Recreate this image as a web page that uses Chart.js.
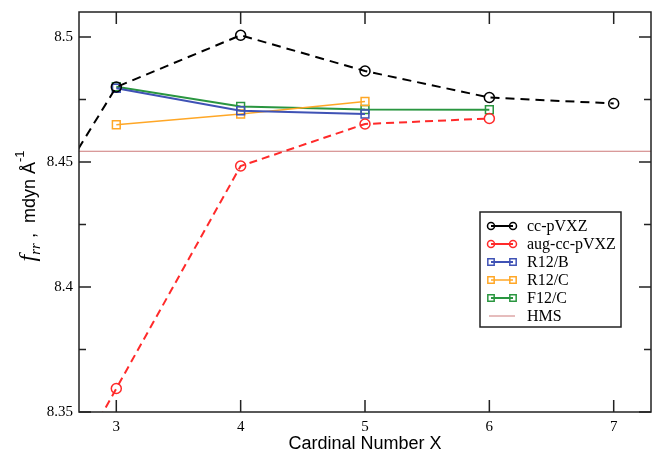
<!DOCTYPE html>
<html>
<head>
<meta charset="utf-8">
<script src="https://cdn.jsdelivr.net/npm/chart.js@4.4.1/dist/chart.umd.min.js"></script>
<style>
  html, body { margin: 0; padding: 0; background: #fff; }
  #frrChart { display: block; }
</style>
</head>
<body>
<canvas id="frrChart" width="652" height="452"></canvas>
<script>
// 基底関数の基数 X
var ccX = [2, 3, 4, 5, 6, 7];
var augX = [2, 3, 4, 5, 6];
var r12X = [3, 4, 5];
var f12X = [3, 4, 5, 6];

// f_rr (mdyn/Å)
var ccY = [8.399, 8.480, 8.5007, 8.4864, 8.4758, 8.4734];
var augY = [8.27, 8.3594, 8.4484, 8.4652, 8.4674];
var r12bY = [8.4795, 8.4705, 8.4692];
var r12cY = [8.4649, 8.4692, 8.4742];
var f12cY = [8.4801, 8.4722, 8.4710, 8.4709];
var hmsY = 8.4543;

// 軸
var xMin = 2.7, xMax = 7.3;
var yMin = 8.35, yMax = 8.51;
var xTicks = [3, 4, 5, 6, 7];
var yTicks = [8.35, 8.4, 8.45, 8.5];
var yMinorTicks = [8.375, 8.425, 8.475];

var seriesLabels = ["cc-pVXZ", "aug-cc-pVXZ", "R12/B", "R12/C", "F12/C", "HMS"];

function toPoints(xs, ys) {
  return xs.map(function (x, i) {
    return { x: x, y: ys[i] };
  });
}

var serif = "'Liberation Serif', 'Times New Roman', serif";
var sans = "'Liberation Sans', Arial, sans-serif";

// 枠・内向き目盛り・凡例・軸タイトルを描くプラグイン
var gracePlugin = {
  id: "grace",
  afterDraw: function (chart) {
    var ctx = chart.ctx;
    var a = chart.chartArea;
    var xs = chart.scales.x;
    var ys = chart.scales.y;
    ctx.save();
    ctx.strokeStyle = "#222";
    ctx.lineWidth = 1.5;
    ctx.strokeRect(a.left, a.top, a.right - a.left, a.bottom - a.top);

    ctx.beginPath();
    xTicks.forEach(function (v) {
      var px = xs.getPixelForValue(v);
      ctx.moveTo(px, a.bottom);
      ctx.lineTo(px, a.bottom - 12);
      ctx.moveTo(px, a.top);
      ctx.lineTo(px, a.top + 12);
    });
    yTicks.forEach(function (v) {
      var py = ys.getPixelForValue(v);
      ctx.moveTo(a.left, py);
      ctx.lineTo(a.left + 12, py);
      ctx.moveTo(a.right, py);
      ctx.lineTo(a.right - 12, py);
    });
    yMinorTicks.forEach(function (v) {
      var py = ys.getPixelForValue(v);
      ctx.moveTo(a.left, py);
      ctx.lineTo(a.left + 7, py);
      ctx.moveTo(a.right, py);
      ctx.lineTo(a.right - 7, py);
    });
    ctx.stroke();

    // 凡例
    var lx = 480, ly = 212, lw = 141, lh = 115;
    ctx.fillStyle = "#fff";
    ctx.fillRect(lx, ly, lw, lh);
    ctx.strokeRect(lx, ly, lw, lh);
    chart.data.datasets.forEach(function (ds, i) {
      var cy = ly + 14 + i * 18;
      var x1 = lx + 11, x2 = lx + 33;
      ctx.save();
      ctx.strokeStyle = ds.borderColor;
      ctx.lineWidth = ds.borderWidth;
      if (ds.pointRadius > 0) {
        ctx.beginPath();
        ctx.moveTo(x1, cy);
        ctx.lineTo(x2, cy);
        ctx.stroke();
        var r = ds.pointStyle === "rect" ? 4.5 : 3.5;
        ctx.lineWidth = 1.5;
        ctx.fillStyle = "rgba(0,0,0,0)";
        Chart.helpers.drawPoint(ctx, { pointStyle: ds.pointStyle, radius: r, borderWidth: 1.5 }, x1, cy);
        Chart.helpers.drawPoint(ctx, { pointStyle: ds.pointStyle, radius: r, borderWidth: 1.5 }, x2, cy);
      } else {
        ctx.beginPath();
        ctx.moveTo(x1 - 2, cy);
        ctx.lineTo(x2 + 2, cy);
        ctx.stroke();
      }
      ctx.restore();
      ctx.fillStyle = "#000";
      ctx.font = "16px " + serif;
      ctx.textBaseline = "middle";
      ctx.textAlign = "left";
      ctx.fillText(ds.label, lx + 47, cy + 1);
    });

    // x 軸タイトル
    ctx.fillStyle = "#000";
    ctx.font = "18px " + sans;
    ctx.textAlign = "center";
    ctx.textBaseline = "alphabetic";
    ctx.fillText("Cardinal Number X", (a.left + a.right) / 2, 449);

    // y 軸タイトル (f_rr , mdyn Å^-1)
    var parts = [
      { t: "f", font: "italic 24px " + serif, dy: 0 },
      { t: "rr", font: "italic 15px " + serif, dy: 5 },
      { t: " ,  mdyn Å", font: "18px " + sans, dy: 0 },
      { t: "-1", font: "13px " + sans, dy: -11 },
    ];
    var total = 0;
    parts.forEach(function (p) {
      ctx.font = p.font;
      p.w = ctx.measureText(p.t).width;
      total += p.w;
    });
    ctx.translate(35, 206);
    ctx.rotate(-Math.PI / 2);
    ctx.textAlign = "left";
    var cx = -total / 2;
    parts.forEach(function (p) {
      ctx.font = p.font;
      ctx.fillText(p.t, cx, p.dy);
      cx += p.w;
    });
    ctx.restore();
  },
};

var frrChartConfig = {
  type: "line",
  data: {
    datasets: [
      {
        label: seriesLabels[0],
        data: toPoints(ccX, ccY),
        borderColor: "#000",
        borderWidth: 2,
        borderDash: [9, 6],
        pointStyle: "circle",
        pointRadius: 5,
        pointBorderWidth: 1.5,
        pointBackgroundColor: "rgba(0,0,0,0)",
      },
      {
        label: seriesLabels[1],
        data: toPoints(augX, augY),
        borderColor: "#ff2a2a",
        borderWidth: 2,
        borderDash: [8, 5],
        pointStyle: "circle",
        pointRadius: 5,
        pointBorderWidth: 1.5,
        pointBackgroundColor: "rgba(0,0,0,0)",
      },
      {
        label: seriesLabels[2],
        data: toPoints(r12X, r12bY),
        borderColor: "#3f52b5",
        borderWidth: 2,
        pointStyle: "rect",
        pointRadius: 5.5,
        pointBorderWidth: 1.5,
        pointBackgroundColor: "rgba(0,0,0,0)",
      },
      {
        label: seriesLabels[3],
        data: toPoints(r12X, r12cY),
        borderColor: "#ffa726",
        borderWidth: 1.5,
        pointStyle: "rect",
        pointRadius: 5.5,
        pointBorderWidth: 1.5,
        pointBackgroundColor: "rgba(0,0,0,0)",
      },
      {
        label: seriesLabels[4],
        data: toPoints(f12X, f12cY),
        borderColor: "#2a9640",
        borderWidth: 2,
        pointStyle: "rect",
        pointRadius: 5.5,
        pointBorderWidth: 1.5,
        pointBackgroundColor: "rgba(0,0,0,0)",
      },
      {
        label: seriesLabels[5],
        data: toPoints([xMin, xMax], [hmsY, hmsY]),
        borderColor: "#cd7a7a",
        borderWidth: 1,
        pointRadius: 0,
      },
    ],
  },
  options: {
    responsive: false,
    animation: false,
    devicePixelRatio: 1,
    layout: {
      autoPadding: false,
      padding: { top: 12, right: 1, left: 0, bottom: 0 },
    },
    plugins: {
      legend: { display: false },
      tooltip: { enabled: false },
    },
    scales: {
      x: {
        type: "linear",
        min: xMin,
        max: xMax,
        grid: { display: false, drawTicks: false },
        border: { display: false },
        afterBuildTicks: function (scale) {
          scale.ticks = xTicks.map(function (v) { return { value: v }; });
        },
        afterFit: function (scale) {
          scale.height = 40;
          scale.paddingLeft = 0;
          scale.paddingRight = 0;
        },
        ticks: {
          padding: 6,
          color: "#000",
          font: { family: serif, size: 15 },
        },
      },
      y: {
        type: "linear",
        min: yMin,
        max: yMax,
        grid: { display: false, drawTicks: false },
        border: { display: false },
        afterBuildTicks: function (scale) {
          scale.ticks = yTicks.map(function (v) { return { value: v }; });
        },
        afterFit: function (scale) {
          scale.width = 79;
          scale.paddingTop = 0;
          scale.paddingBottom = 0;
        },
        ticks: {
          padding: 6,
          color: "#000",
          font: { family: serif, size: 15 },
          callback: function (v) {
            return String(Math.round(v * 100) / 100);
          },
        },
      },
    },
  },
  plugins: [gracePlugin],
};

var frrChart = new Chart(document.getElementById("frrChart"), frrChartConfig);
</script>
</body>
</html>
